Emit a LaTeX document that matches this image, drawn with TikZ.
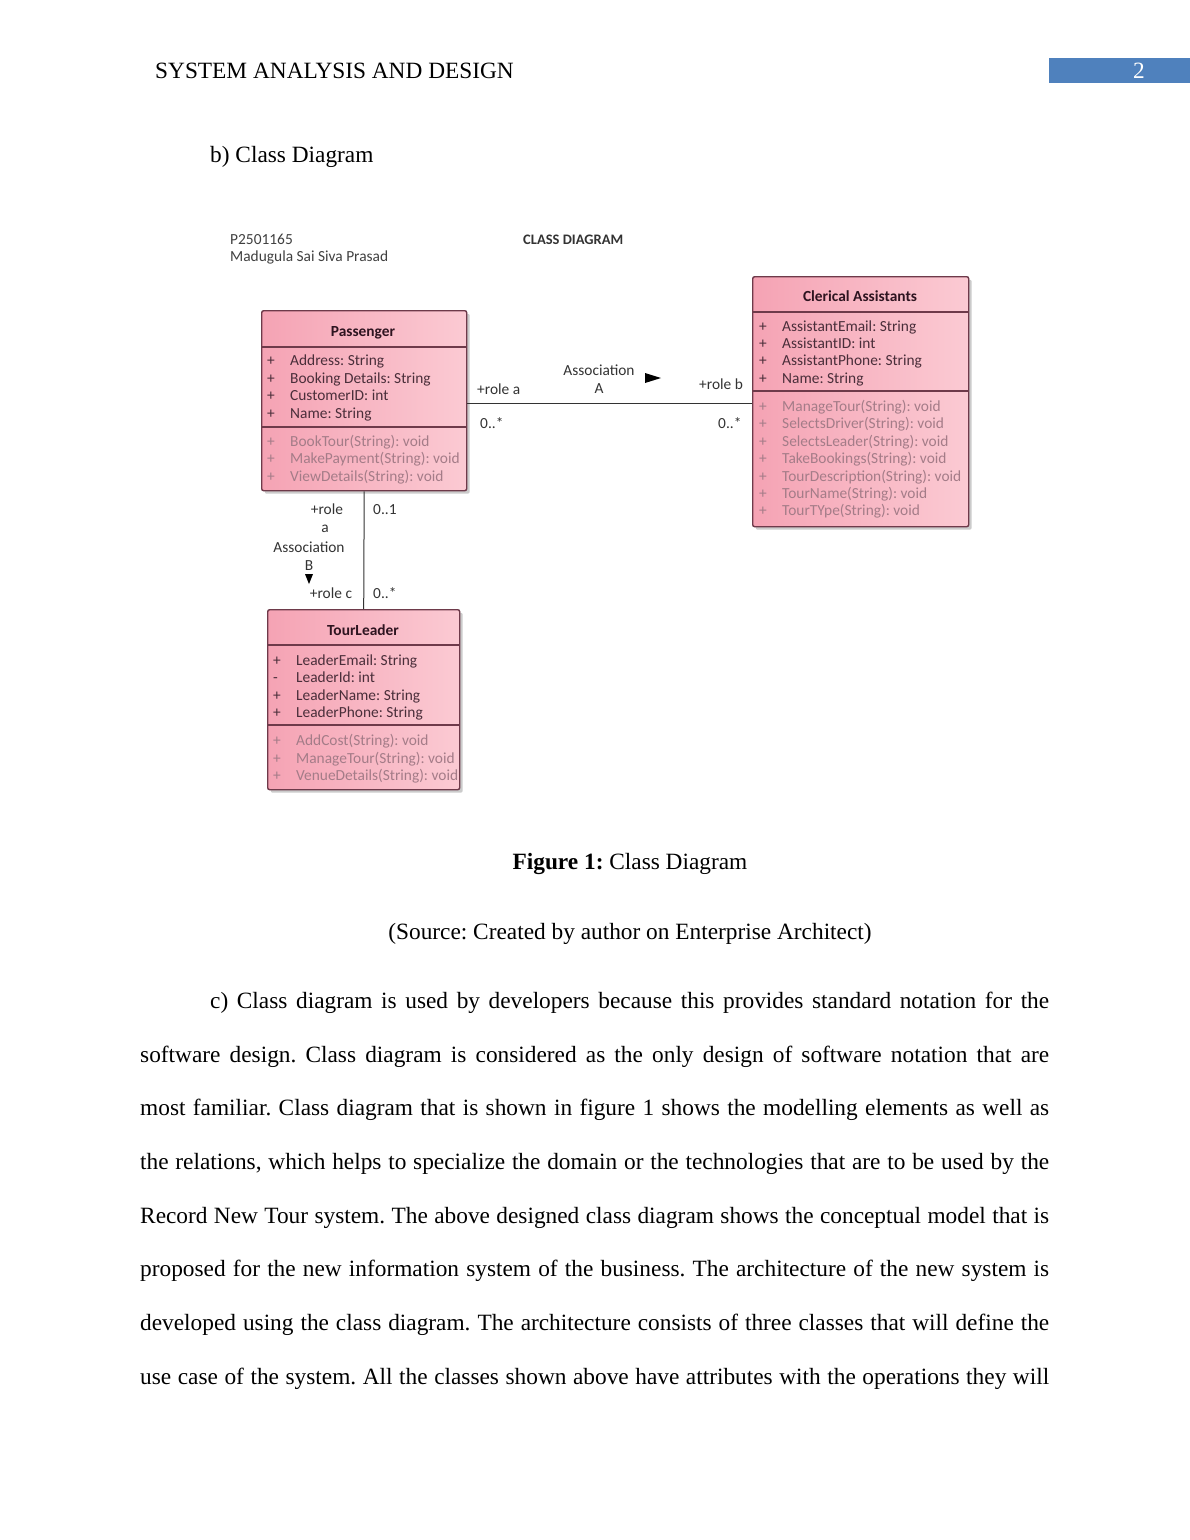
\documentclass[tikz,border=0pt]{standalone}
\usepackage{fontspec}
\setmainfont{Liberation Serif}
\newfontfamily\umlfont{Carlito}
\usetikzlibrary{shadows}
\definecolor{borderc}{HTML}{6E3A4A}
\definecolor{attrc}{HTML}{4A2E3A}
\definecolor{opc}{HTML}{A47C88}
\definecolor{titlec}{HTML}{2E1420}
\definecolor{pinkL}{HTML}{F5A3B4}
\definecolor{pinkR}{HTML}{FBCAD3}
\definecolor{labc}{HTML}{333333}
\definecolor{hdrblue}{HTML}{4F81BD}
\frenchspacing
\tikzset{
  body/.style={font=\fontsize{23.33}{28}\selectfont, inner sep=0pt, anchor=base west},
  bodyc/.style={font=\fontsize{23.33}{28}\selectfont, inner sep=0pt, anchor=base},
  umltxt/.style={font=\umlfont\fontsize{15.4}{17}\selectfont, inner sep=0pt, anchor=base west, text=attrc},
  optxt/.style={umltxt, text=opc},
  labtxt/.style={font=\umlfont\fontsize{15.4}{17}\selectfont, inner sep=0pt, anchor=base west, text=labc},
  labc/.style={labtxt, anchor=base},
  ttl/.style={font=\umlfont\bfseries\fontsize{15.4}{17}\selectfont, inner sep=0pt, anchor=base, text=titlec},
  classbox/.style={draw=borderc, line width=1.4pt, rounded corners=2pt, shading angle=60,
     left color=pinkL, right color=pinkR, inner sep=0pt, anchor=north west,
     drop shadow={shadow xshift=3pt, shadow yshift=-3pt, fill=black!25, opacity=0.8}},
  divider/.style={draw=borderc, line width=1.3pt},
  assoc/.style={draw=black!80, line width=1pt}
}
\begin{document}
\begin{tikzpicture}[x=1pt,y=-1pt]
\useasboundingbox[fill=white] (0,0) rectangle (1190,1540);

% page header
\node[body] (hdr) at (155,78) {SYSTEM ANALYSIS AND DESIGN};
\fill[hdrblue] (1049,58) rectangle (1190,83);
\node[bodyc, text=white] (pg) at (1139,78) {2};

\node[body] (bsec) at (210,162) {b) Class Diagram};

% diagram header
\node[labtxt, text=black!75] (id) at (230,244) {P2501165};
\node[labtxt, text=black!75] (nm) at (230,261) {Madugula Sai Siva Prasad};
\node[labtxt, font=\umlfont\bfseries\fontsize{14.5}{17}\selectfont, text=black!80] (cd) at (523,244) {CLASS DIAGRAM};

% Passenger
\node[classbox, minimum width=205pt, minimum height=180pt] (pass) at (261,310) {};
\draw[divider] (261,347) -- (466,347);
\draw[divider] (261,427) -- (466,427);
\node[ttl] (passT) at (363,336) {Passenger};
\foreach \y/\t [count=\i] in {365/Address: String, 383/Booking Details: String, 400/CustomerID: int, 418/Name: String}{
  \node[umltxt] (pa\i s) at (267,\y) {+};
  \node[umltxt] (pa\i) at (290,\y) {\t};
}
\foreach \y/\t [count=\i] in {446/BookTour(String): void, 463/MakePayment(String): void, 481/ViewDetails(String): void}{
  \node[optxt] (po\i s) at (267,\y) {+};
  \node[optxt] (po\i) at (290,\y) {\t};
}

% Clerical Assistants
\node[classbox, minimum width=216pt, minimum height=250pt] (cler) at (752,276) {};
\draw[divider] (752,312) -- (968,312);
\draw[divider] (752,391) -- (968,391);
\node[ttl] (clerT) at (860,301) {Clerical Assistants};
\foreach \y/\t [count=\i] in {331/AssistantEmail: String, 348/AssistantID: int, 365/AssistantPhone: String, 383/Name: String}{
  \node[umltxt] (ca\i s) at (759,\y) {+};
  \node[umltxt] (ca\i) at (782,\y) {\t};
}
\foreach \y/\t [count=\i] in {411/ManageTour(String): void, 428/SelectsDriver(String): void, 446/SelectsLeader(String): void, 463/TakeBookings(String): void, 481/TourDescription(String): void, 498/TourName(String): void, 515/TourTYpe(String): void}{
  \node[optxt] (co\i s) at (759,\y) {+};
  \node[optxt] (co\i) at (782,\y) {\t};
}

% TourLeader
\node[classbox, minimum width=192pt, minimum height=180pt] (tour) at (267,609) {};
\draw[divider] (267,645) -- (459,645);
\draw[divider] (267,725) -- (459,725);
\node[ttl] (tourT) at (363,635) {TourLeader};
\foreach \y/\s/\t [count=\i] in {665/+/LeaderEmail: String, 682/-/LeaderId: int, 700/+/LeaderName: String, 717/+/LeaderPhone: String}{
  \node[umltxt] (ta\i s) at (273,\y) {\s};
  \node[umltxt] (ta\i) at (296,\y) {\t};
}
\begin{scope}
\clip (267,726) rectangle (458,789);
\foreach \y/\t [count=\i] in {745/AddCost(String): void, 763/ManageTour(String): void, 780/VenueDetails(String): void}{
  \node[optxt] (to\i s) at (273,\y) {+};
  \node[optxt] (to\i) at (296,\y) {\t};
}
\end{scope}

% Association A
\draw[assoc] ([yshift=-3pt]pass.east) -- ([yshift=-3pt]pass.east -| cler.west);
\node[labtxt] (ra) at (477,394) {+role a};
\node[labc] (asA) at (599,375) {Association};
\node[labc] (asA2) at (599,393) {A};
\fill[black] (645,373) -- (661,378) -- (645,383) -- cycle;
\node[labtxt] (rb) at (699,389) {+role b};
\node[labtxt] (m1) at (480,428) {0..*};
\node[labtxt] (m2) at (718,428) {0..*};

% Association B
\draw[assoc] (pass.south) -- (tour.north);
\node[labc] (rA) at (327,514) {+role};
\node[labc] (rA2) at (325,532) {a};
\node[labc] (asB) at (309,552) {Association};
\node[labc] (asB2) at (309,570) {B};
\fill[black] (305,574) -- (313,574) -- (309,584) -- cycle;
\node[labc] (rc) at (331,598) {+role c};
\node[labtxt] (m3) at (373,514) {0..1};
\node[labtxt] (m4) at (373,598) {0..*};

% caption
\node[bodyc] (cap) at (630,869) {\textbf{Figure 1:} Class Diagram};
\node[bodyc] (src) at (630,939) {(Source: Created by author on Enterprise Architect)};

% body paragraph
\node[body] (l1) at (210,1008) {\makebox[839pt][s]{c) Class diagram is used by developers because this provides standard notation for the}};
\node[body] (l2) at (140,1062) {\makebox[909pt][s]{software design. Class diagram is considered as the only design of software notation that are}};
\node[body] (l3) at (140,1115) {\makebox[909pt][s]{most familiar. Class diagram that is shown in figure 1 shows the modelling elements as well as}};
\node[body] (l4) at (140,1169) {\makebox[909pt][s]{the relations, which helps to specialize the domain or the technologies that are to be used by the}};
\node[body] (l5) at (140,1223) {\makebox[909pt][s]{Record New Tour system. The above designed class diagram shows the conceptual model that is}};
\node[body] (l6) at (140,1276) {\makebox[909pt][s]{proposed for the new information system of the business. The architecture of the new system is}};
\node[body] (l7) at (140,1330) {\makebox[909pt][s]{developed using the class diagram. The architecture consists of three classes that will define the}};
\node[body] (l8) at (140,1384) {\makebox[909pt][s]{use case of the system. All the classes shown above have attributes with the operations they will}};
\end{tikzpicture}
\end{document}
